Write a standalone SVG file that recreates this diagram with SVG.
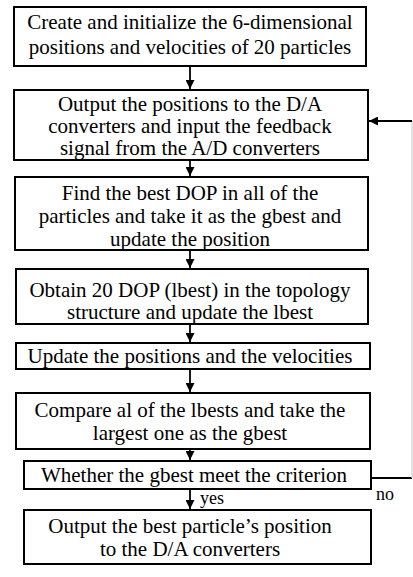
<svg xmlns="http://www.w3.org/2000/svg" width="413" height="577" viewBox="0 0 413 577">
<defs>
<style>
.box{fill:#fff;stroke:#000;stroke-width:2}
.t{font-family:"Liberation Serif","Times New Roman",serif;font-size:21px;fill:#000;text-anchor:middle}
.c{fill:none;stroke:#000;stroke-width:1.8}
.lbl{font-family:"Liberation Serif","Times New Roman",serif;font-size:18px;fill:#000}
</style>
<marker id="ah" viewBox="0 0 10 10" refX="10" refY="5" markerWidth="5" markerHeight="5" orient="auto-start-reverse" markerUnits="strokeWidth">
<path d="M0,0 L10,5 L0,10 z" fill="#000"/>
</marker>
</defs>
<rect width="413" height="577" fill="#fff"/>
<g id="connectors">
<line class="c" x1="190" y1="66" x2="190" y2="89" marker-end="url(#ah)"/>
<line class="c" x1="190" y1="160" x2="190" y2="176" marker-end="url(#ah)"/>
<line class="c" x1="190" y1="250" x2="190" y2="268" marker-end="url(#ah)"/>
<line class="c" x1="190" y1="324" x2="190" y2="342" marker-end="url(#ah)"/>
<line class="c" x1="190" y1="369" x2="190" y2="392" marker-end="url(#ah)"/>
<line class="c" x1="190" y1="449" x2="190" y2="460" marker-end="url(#ah)"/>
<line class="c" x1="190" y1="489" x2="190" y2="509" marker-end="url(#ah)"/>
<line class="c" x1="371" y1="478" x2="412" y2="478"/>
<line x1="412" y1="121" x2="412" y2="478" stroke="#d0d0d0" stroke-width="1.2"/>
<line class="c" x1="412" y1="121" x2="369" y2="121" marker-end="url(#ah)"/>
<text class="lbl" x="376" y="500">no</text>
<text class="lbl" x="200" y="504">yes</text>
</g>
<g id="n1">
<rect class="box" x="14" y="7" width="352" height="59"/>
<text class="t" x="190" y="29">Create and initialize the 6-dimensional</text>
<text class="t" x="190" y="54">positions and velocities of 20 particles</text>
</g>
<g id="n2">
<rect class="box" x="14" y="90" width="354" height="70"/>
<text class="t" x="190" y="111">Output the positions to the D/A</text>
<text class="t" x="190" y="133">converters and input the feedback</text>
<text class="t" x="190" y="155">signal from the A/D converters</text>
</g>
<g id="n3">
<rect class="box" x="15" y="177" width="353" height="73"/>
<text class="t" x="190" y="200">Find the best DOP in all of the</text>
<text class="t" x="190" y="223">particles and take it as the gbest and</text>
<text class="t" x="190" y="246">update the position</text>
</g>
<g id="n4">
<rect class="box" x="16" y="269" width="352" height="55"/>
<text class="t" x="190" y="297">Obtain 20 DOP (lbest) in the topology</text>
<text class="t" x="190" y="319">structure and update the lbest</text>
</g>
<g id="n5">
<rect class="box" x="16" y="343" width="354" height="26"/>
<text class="t" x="190" y="363">Update the positions and the velocities</text>
</g>
<g id="n6">
<rect class="box" x="16" y="393" width="354" height="56"/>
<text class="t" x="190" y="417">Compare al of the lbests and take the</text>
<text class="t" x="190" y="440">largest one as the gbest</text>
</g>
<g id="n7">
<rect class="box" x="24" y="461" width="347" height="28"/>
<text class="t" x="194" y="482">Whether the gbest meet the criterion</text>
</g>
<g id="n8">
<rect class="box" x="24" y="510" width="347" height="54"/>
<text class="t" x="190" y="533">Output the best particle’s position</text>
<text class="t" x="190" y="556">to the D/A converters</text>
</g>
</svg>
